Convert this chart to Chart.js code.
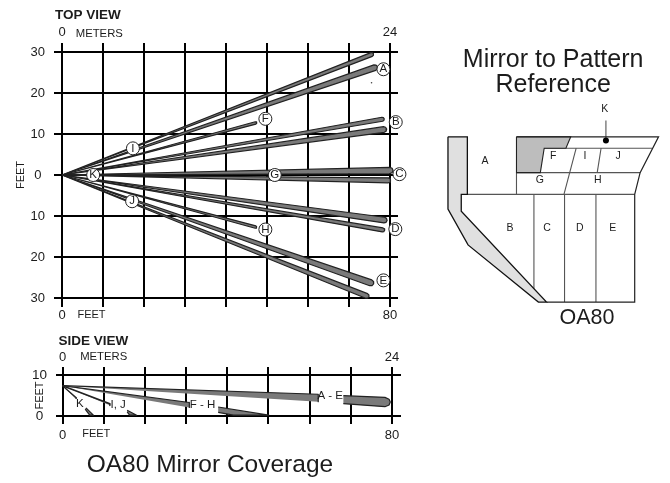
<!DOCTYPE html>
<html>
<head>
<meta charset="utf-8">
<title>OA80 Mirror Coverage</title>
<script src="https://cdn.jsdelivr.net/npm/chart.js@4/dist/chart.umd.min.js"></script>
<style>
  html, body { margin: 0; padding: 0; background: #fff; }
  body { width: 670px; height: 483px; position: relative; overflow: hidden; }
  canvas { position: absolute; }
</style>
</head>
<body>
<canvas id="topView" width="412" height="325" style="left:0;top:0;width:412px;height:325px"></canvas>
<canvas id="sideView" width="412" height="153" style="left:0;top:330px;width:412px;height:153px"></canvas>
<canvas id="mirrorRef" width="258" height="340" style="left:412px;top:0;width:258px;height:340px"></canvas>
<script>
// Ticks
const footTicks = [0, 10, 20, 30, 40, 50, 60, 70, 80];
const meterTicks = [0, 3, 6, 9, 12, 15, 18, 21, 24];
const topFeetTicks = [-30, -20, -10, 0, 10, 20, 30];
const sideFeetTicks = [0, 10];

// Top view: end of each beam (feet) and its width at the end (feet)
const beamEndX =  [75.5, 76.3, 47.2, 78.1, 78.5, 80.0, 79.6, 78.6, 78.2, 47.2, 75.3, 74.3];
const beamEndY =  [29.4, 26.2, 12.7, 13.6, 11.1, 1.1, -1.3, -11.0, -13.4, -12.7, -26.3, -29.5];
const beamWidth = [1.0, 1.4, 0.6, 1.0, 1.4, 1.5, 1.2, 1.4, 1.0, 0.6, 1.5, 1.2];

// Top view: circled letters
const markLetters = ['A', 'B', 'C', 'D', 'E', 'F', 'G', 'H', 'I', 'J', 'K'];
const markX = [78.4, 81.4, 82.3, 81.3, 78.4, 49.6, 51.9, 49.6, 17.3, 17.1, 7.6];
const markY = [25.8, 12.9, 0.2, -13.2, -25.7, 13.7, 0, -13.3, 6.5, -6.4, 0];

// Side view: beam pieces (feet), broken where the labels sit
const sideAE1x = [0, 62.1, 62.1];
const sideAE1y = [7.4, 5.3, 3.5];
const sideAE2x = [68.2, 78.3, 79.3, 79.6, 79.3, 78.3, 68.2];
const sideAE2y = [4.95, 4.55, 4.1, 3.4, 2.7, 2.27, 3.0];
const sideFH1x = [0, 30.8, 30.8];
const sideFH1y = [7.4, 3.3, 2.1];
const sideFH2x = [37.8, 50.1, 41.5, 37.8];
const sideFH2y = [2.2, 0.2, 0.2, 0.9];
const sideIJ1x = [0, 11.5, 11.5];
const sideIJ1y = [7.4, 3.0, 2.6];
const sideIJ2x = [15.7, 18.0, 16.3, 15.7];
const sideIJ2y = [1.4, 0.2, 0.2, 1.0];
const sideK1x = [0, 3.4, 3.2];
const sideK1y = [7.4, 4.4, 4.2];
const sideK2x = [5.7, 7.5, 6.6, 5.5];
const sideK2y = [2.0, 0.2, 0.2, 1.7];

// Mirror diagram outlines, in diagram units
const bandX = [445, 465, 465, 458.7, 458.7, 546.7, 538.3, 465.7, 445, 445];
const bandY = [136, 136, 195, 195, 212.3, 305.3, 305.3, 246.7, 210, 136];
const shadeX = [515.7, 571.7, 566.7, 544.3, 540.3, 515.7, 515.7];
const shadeY = [136, 136, 147.7, 147.7, 172.7, 172.7, 136];
const outlineX = [515.7, 662.3, 643.3, 637.7, 637.7, 546.7];
const outlineY = [136, 136, 172.7, 195, 305.3, 305.3];
const dividers = [
  [515.7, 172.7, 643.3, 172.7],
  [544.3, 147.7, 655.7, 147.7],
  [465, 195, 637.7, 195],
  [515.7, 172.7, 515.7, 195],
  [577.3, 147.7, 564.7, 195],
  [603, 147.7, 599, 172.7],
  [533.7, 195, 533.7, 291.6],
  [565.3, 195, 565.3, 305.3],
  [597.7, 195, 597.7, 305.3],
  [608, 119.3, 608, 139.7]
];
const zoneLetters = ['K', 'A', 'F', 'I', 'J', 'G', 'H', 'B', 'C', 'D', 'E'];
const zoneX = [606.7, 483.3, 553.7, 586.3, 620.7, 539.7, 599.7, 509, 547.3, 581, 615];
const zoneY = [107.3, 160.7, 156, 156, 156, 180.7, 180.7, 229.3, 229.3, 229.3, 229.3];

const FONT = '"Liberation Sans", Arial, sans-serif';
const TEXT_COLOR = '#1c1c1c';
const BEAM_FILL = '#7a7a7a';
const BEAM_LINE = '#222';

Chart.defaults.font.family = FONT;
Chart.defaults.color = TEXT_COLOR;
Chart.defaults.animation = false;
Chart.defaults.responsive = false;
Chart.defaults.devicePixelRatio = 1;

// Fills a closed outline through the points the scales already placed
Chart.register({
  id: 'closedFill',
  beforeDatasetDraw(chart, args) {
    const ds = chart.data.datasets[args.index];
    if (!ds.closedFill) return;
    const ctx = chart.ctx;
    const pts = args.meta.data;
    ctx.save();
    ctx.beginPath();
    pts.forEach((p, i) => (i ? ctx.lineTo(p.x, p.y) : ctx.moveTo(p.x, p.y)));
    ctx.closePath();
    ctx.fillStyle = ds.closedFill;
    ctx.fill();
    ctx.restore();
  }
});

// Free text placed in the data units of a chart
Chart.register({
  id: 'notes',
  afterDraw(chart, args, opts) {
    const items = opts.items || [];
    const ctx = chart.ctx;
    ctx.save();
    ctx.textAlign = 'center';
    ctx.textBaseline = 'middle';
    items.forEach(n => {
      ctx.font = (n.weight || 'normal') + ' ' + n.size + 'px ' + FONT;
      ctx.fillStyle = TEXT_COLOR;
      ctx.fillText(n.text, chart.scales.x.getPixelForValue(n.x), chart.scales.y.getPixelForValue(n.y));
    });
    ctx.restore();
  }
});

function xy(xs, ys) {
  return xs.map((x, i) => ({ x: x, y: ys[i] }));
}

// A beam that opens from the mirror and ends in a rounded tip
function wedge(x, y, w) {
  const len = Math.hypot(x, y);
  const dx = x / len, dy = y / len;
  const nx = -dy, ny = dx;
  const at = (a, b) => ({ x: x + dx * w * a + nx * w * b, y: y + dy * w * a + ny * w * b });
  return [{ x: 0, y: 0 }, at(0, 0.5), at(0.35, 0.35), at(0.5, 0), at(0.35, -0.35), at(0, -0.5), { x: 0, y: 0 }];
}

function beamSet(points, lineWidth) {
  return {
    data: points,
    showLine: true,
    pointRadius: 0,
    borderColor: BEAM_LINE,
    borderWidth: lineWidth || 1.2,
    borderJoinStyle: 'round',
    closedFill: BEAM_FILL,
    clip: false
  };
}

function gridOnly() {
  return { color: '#000', lineWidth: 2, drawTicks: false };
}

function fixedTicks(values) {
  return axis => { axis.ticks = values.map(v => ({ value: v })); };
}

// ---- Top view ----
const topBeams = beamEndX.map((x, i) => beamSet(wedge(x, beamEndY[i], beamWidth[i])));

new Chart(document.getElementById('topView'), {
  type: 'scatter',
  data: {
    datasets: [
      {
        data: xy(markX, markY),
        pointRadius: 6.5,
        pointBackgroundColor: '#fff',
        pointBorderColor: '#222',
        pointBorderWidth: 1,
        clip: false
      },
      ...topBeams,
      { data: [{ x: 75.5, y: 22.5 }], pointRadius: 0.8, pointBackgroundColor: '#444', pointBorderWidth: 0 }
    ]
  },
  options: {
    layout: { padding: { left: 0, top: 0, right: 14, bottom: 0 } },
    plugins: {
      legend: { display: false },
      tooltip: { enabled: false },
      notes: {
        items: [
          { text: 'TOP VIEW', x: 6.3, y: 39, size: 13.5, weight: 'bold' },
          { text: 'METERS', x: 9.1, y: 34.4, size: 11.3 },
          { text: 'FEET', x: 7.2, y: -34.2, size: 11 },
          ...markLetters.map((t, i) => ({ text: t, x: markX[i], y: markY[i], size: 11.5 }))
        ]
      }
    },
    scales: {
      x: {
        type: 'linear',
        position: 'bottom',
        min: -1.95,
        max: 81.95,
        afterFit: s => { s.height = 18; },
        afterBuildTicks: fixedTicks(footTicks),
        grid: gridOnly(),
        border: { display: false },
        ticks: {
          autoSkip: false,
          maxRotation: 0,
          padding: 1,
          font: { size: 13 },
          callback: v => (v === 0 || v === 80 ? String(v) : '')
        }
      },
      x2: {
        type: 'linear',
        axis: 'x',
        position: 'top',
        min: -0.585,
        max: 24.585,
        afterFit: s => { s.height = 43; },
        afterBuildTicks: fixedTicks(meterTicks),
        grid: { display: false, drawTicks: false },
        border: { display: false },
        ticks: {
          autoSkip: false,
          maxRotation: 0,
          padding: 3,
          font: { size: 13 },
          callback: v => (v === 0 || v === 24 ? String(v) : '')
        }
      },
      y: {
        type: 'linear',
        min: -32.2,
        max: 32.2,
        afterFit: s => { s.width = 54; },
        afterBuildTicks: fixedTicks(topFeetTicks),
        grid: gridOnly(),
        border: { display: false },
        title: { display: true, text: 'FEET', font: { size: 11 }, padding: { top: 14, bottom: 0 } },
        ticks: {
          autoSkip: false,
          padding: 9,
          crossAlign: 'center',
          font: { size: 13 },
          callback: v => String(Math.abs(v))
        }
      }
    }
  }
});

// ---- Side view ----
new Chart(document.getElementById('sideView'), {
  type: 'scatter',
  data: {
    datasets: [
      beamSet(xy(sideAE1x, sideAE1y)),
      beamSet(xy(sideAE2x, sideAE2y)),
      beamSet(xy(sideFH1x, sideFH1y)),
      beamSet(xy(sideFH2x, sideFH2y)),
      beamSet(xy(sideIJ1x, sideIJ1y), 1.6),
      beamSet(xy(sideIJ2x, sideIJ2y)),
      beamSet(xy(sideK1x, sideK1y), 1.3),
      beamSet(xy(sideK2x, sideK2y))
    ]
  },
  options: {
    layout: { padding: { left: 0, top: 0, right: 11, bottom: 0 } },
    plugins: {
      legend: { display: false },
      tooltip: { enabled: false },
      notes: {
        items: [
          { text: 'SIDE VIEW', x: 7.5, y: 18.3, size: 13.5, weight: 'bold' },
          { text: 'METERS', x: 10, y: 14.3, size: 11.3 },
          { text: 'FEET', x: 8.2, y: -4.3, size: 11 },
          { text: 'K', x: 4.2, y: 2.9, size: 11.5 },
          { text: 'I, J', x: 13.5, y: 2.7, size: 11.5 },
          { text: 'F - H', x: 34, y: 2.7, size: 11.5 },
          { text: 'A - E', x: 65, y: 4.9, size: 11.5 },
          { text: 'OA80 Mirror Coverage', x: 35.8, y: -12.1, size: 24.5 }
        ]
      }
    },
    scales: {
      x: {
        type: 'linear',
        position: 'bottom',
        min: -1.58,
        max: 82.2,
        afterFit: s => { s.height = 59; },
        afterBuildTicks: fixedTicks(footTicks),
        grid: gridOnly(),
        border: { display: false },
        ticks: {
          autoSkip: false,
          maxRotation: 0,
          padding: 4,
          font: { size: 13 },
          callback: v => (v === 0 || v === 80 ? String(v) : '')
        }
      },
      x2: {
        type: 'linear',
        axis: 'x',
        position: 'top',
        min: -0.474,
        max: 24.66,
        afterFit: s => { s.height = 37; },
        afterBuildTicks: fixedTicks(meterTicks),
        grid: { display: false, drawTicks: false },
        border: { display: false },
        ticks: {
          autoSkip: false,
          maxRotation: 0,
          padding: 2,
          font: { size: 13 },
          callback: v => (v === 0 || v === 24 ? String(v) : '')
        }
      },
      y: {
        type: 'linear',
        min: -1.95,
        max: 11.95,
        afterFit: s => { s.width = 56; },
        afterBuildTicks: fixedTicks(sideFeetTicks),
        grid: gridOnly(),
        border: { display: false },
        title: { display: true, text: 'FEET', font: { size: 11 }, padding: { top: 33, bottom: 0 } },
        ticks: { autoSkip: false, padding: 9, crossAlign: 'center', font: { size: 13.5 } }
      }
    }
  }
});

// ---- Mirror to pattern reference ----
const dividerSets = dividers.map(d => ({
  data: [{ x: d[0], y: d[1] }, { x: d[2], y: d[3] }],
  showLine: true,
  pointRadius: 0,
  borderColor: '#555',
  borderWidth: 1.1
}));

new Chart(document.getElementById('mirrorRef'), {
  type: 'scatter',
  data: {
    datasets: [
      { data: [{ x: 608, y: 139.7 }], pointRadius: 3, pointBackgroundColor: '#000', pointBorderWidth: 0 },
      {
        data: xy(outlineX, outlineY),
        showLine: true,
        pointRadius: 0,
        borderColor: '#222',
        borderWidth: 1.2
      },
      {
        data: xy(shadeX, shadeY),
        showLine: true,
        pointRadius: 0,
        borderColor: '#222',
        borderWidth: 1.1,
        closedFill: '#bdbdbd'
      },
      {
        data: xy(bandX, bandY),
        showLine: true,
        pointRadius: 0,
        borderColor: '#111',
        borderWidth: 1.3,
        closedFill: '#e0e0e0'
      },
      ...dividerSets
    ]
  },
  options: {
    layout: { padding: 0 },
    plugins: {
      legend: { display: false },
      tooltip: { enabled: false },
      notes: {
        items: [
          { text: 'Mirror to Pattern', x: 553.5, y: 57, size: 25 },
          { text: 'Reference', x: 553.5, y: 83, size: 25 },
          { text: 'OA80', x: 588.5, y: 322, size: 21.5 },
          ...zoneLetters.map((t, i) => ({ text: t, x: zoneX[i], y: zoneY[i], size: 10.5 }))
        ]
      }
    },
    scales: {
      x: { type: 'linear', display: false, min: 412, max: 670 },
      y: { type: 'linear', display: false, reverse: true, min: 0, max: 340 }
    }
  }
});
</script>
</body>
</html>
